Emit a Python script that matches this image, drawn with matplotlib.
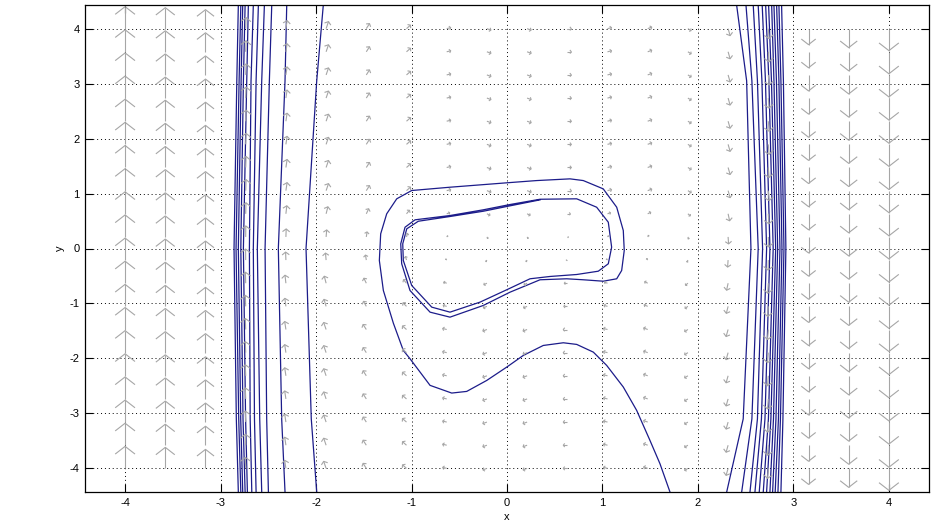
import numpy as np
import matplotlib
matplotlib.use("Agg")
import matplotlib.pyplot as plt
from matplotlib.collections import LineCollection

plt.rcParams['font.family'] = ['Liberation Sans', 'DejaVu Sans']
plt.rcParams['axes.unicode_minus'] = False

# quiver grid (20 x 20 between -4 and 4)
grid_x = np.linspace(-4, 4, 20)
grid_y = np.linspace(-4, 4, 20)
# vertical arrow component per column (screen pixels, + = up)
v_col = [22, 21, 19, 11, 8, 7, 5, 3.5, 1, -1.5, -1.5, 0, 1, 1.5, -2, -7, -10, -16, -19, -22]
# horizontal arrow component per row (screen pixels, + = right)
u_row = [-4, -4, -4, -4, -4, -4, -4, -3.5, -3, -1, 1, 3, 4, 4, 4, 4, 4, 4, 4, 4]
# how much of the horizontal part shows in each column
u_col = [0, 0, 0, 0.1, 0.3, 0.6, 0.8, 1, 1, 1, 1, 1, 1, 1, 0.8, 0.5, 0.2, 0, 0, 0]

# trajectory spiralling onto the closed orbit
loop_x = [1.707, 1.602, 1.497, 1.358, 1.218, 1.044, 0.904, 0.73, 0.59, 0.38, 0.171, -0.003,
          -0.212, -0.422, -0.579, -0.806, -1.016, -1.086, -1.19, -1.295, -1.337, -1.323,
          -1.260, -1.155, -0.998, -0.597, -0.003, 0.311, 0.660, 0.799, 1.008, 1.149, 1.218,
          1.228, 1.201, 1.149, 1.008, 0.799, 0.625, 0.346, 0.031, -0.248, -0.597, -0.806,
          -1.016, -1.103, -1.113, -1.068, -0.963, -0.597, -0.248, 0.031, 0.346, 0.730,
          0.939, 1.061, 1.096, 1.061, 0.956, 0.730, 0.450, 0.241, -0.003, -0.283, -0.597,
          -0.788, -0.998, -1.086, -1.092, -1.050, -0.929, -0.597, -0.248, 0.031, 0.346]
loop_y = [-4.43, -3.915, -3.49, -2.945, -2.52, -2.127, -1.885, -1.745, -1.715, -1.764, -1.945,
          -2.158, -2.40, -2.60, -2.63, -2.49, -2.005, -1.855, -1.36, -0.764, -0.218, 0.267,
          0.631, 0.904, 1.055, 1.115, 1.195, 1.236, 1.267, 1.236, 1.085, 0.751, 0.327,
          -0.036, -0.400, -0.551, -0.595, -0.569, -0.551, -0.569, -0.795, -1.036, -1.249,
          -1.158, -0.764, -0.278, 0.085, 0.387, 0.522, 0.600, 0.704, 0.800, 0.896, 0.904,
          0.751, 0.478, 0.024, -0.278, -0.413, -0.473, -0.509, -0.551, -0.751, -0.976,
          -1.158, -1.067, -0.673, -0.218, 0.085, 0.358, 0.496, 0.582, 0.678, 0.776, 0.885]

# near-vertical trajectories, x read at these heights
side_y = [4.43, 3.05, 0.0, -3.1, -4.43]
left_x = [
    [-2.814, -2.788, -2.768, -2.743, -2.709, -2.657, -2.604, -2.541, -2.464, -2.307, -1.924],
    [-2.830, -2.806, -2.785, -2.761, -2.726, -2.681, -2.628, -2.569, -2.489, -2.325, -1.993],
    [-2.859, -2.838, -2.814, -2.788, -2.761, -2.698, -2.657, -2.615, -2.534, -2.395, -2.105],
    [-2.835, -2.810, -2.789, -2.765, -2.738, -2.690, -2.645, -2.590, -2.517, -2.360, -2.050],
    [-2.814, -2.788, -2.768, -2.743, -2.719, -2.673, -2.628, -2.569, -2.499, -2.325, -1.993],
]
right_x = [
    [2.405, 2.503, 2.579, 2.631, 2.673, 2.709, 2.740, 2.772, 2.796, 2.824, 2.848, 2.876],
    [2.510, 2.565, 2.623, 2.670, 2.707, 2.743, 2.770, 2.796, 2.822, 2.848, 2.869, 2.895],
    [2.555, 2.631, 2.677, 2.719, 2.754, 2.788, 2.814, 2.835, 2.859, 2.880, 2.901, 2.921],
    [2.474, 2.565, 2.623, 2.665, 2.702, 2.738, 2.764, 2.791, 2.817, 2.843, 2.864, 2.890],
    [2.301, 2.458, 2.545, 2.597, 2.642, 2.684, 2.719, 2.754, 2.782, 2.809, 2.838, 2.869],
]

ticks = [-4, -3, -2, -1, 0, 1, 2, 3, 4]
xlim = (-4.42, 4.42)
ylim = (-4.43, 4.43)

W, H = 931, 527
fig = plt.figure(figsize=(W / 100, H / 100), dpi=100)
ax = fig.add_axes([85 / W, 35 / H, 844 / W, 487 / H])
ax.set_xlim(*xlim)
ax.set_ylim(*ylim)

line_col = '#1c1c8a'
for k in range(len(left_x[0])):
    ax.plot([row[k] for row in left_x], side_y, color=line_col, lw=0.9, zorder=2)
for k in range(len(right_x[0])):
    ax.plot([row[k] for row in right_x], side_y, color=line_col, lw=0.9, zorder=2)
ax.plot(loop_x, loop_y, color=line_col, lw=0.9, zorder=2)

# matlab-like quiver arrows with open heads, sized in screen pixels
px_x = 844 / (xlim[1] - xlim[0])
px_y = 487 / (ylim[1] - ylim[0])
segs = []
for i, yy in enumerate(grid_y):
    for j, xx in enumerate(grid_x):
        u = u_row[i] * u_col[j]
        v = v_col[j]
        L = np.hypot(u, v)
        if L == 0:
            continue
        ex, ey = u / L, v / L
        hl, hw = 0.35 * L, 0.45 * L
        bx, by = u - hl * ex, v - hl * ey
        tip = (xx + u / px_x, yy + v / px_y)
        h1 = (xx + (bx - hw * ey) / px_x, yy + (by + hw * ex) / px_y)
        h2 = (xx + (bx + hw * ey) / px_x, yy + (by - hw * ex) / px_y)
        segs.append([(xx, yy), tip])
        segs.append([h1, tip, h2])
ax.add_collection(LineCollection(segs, colors='#a6a6a6', linewidths=0.8, zorder=3))

ax.set_xticks(ticks)
ax.set_yticks(ticks)
ax.grid(True, linestyle=(0, (1, 3)), color='k', linewidth=0.7, zorder=1)
ax.set_axisbelow(True)
ax.tick_params(direction='in', length=6, width=0.8, top=True, right=True,
               labelsize=8, pad=4)
for s in ax.spines.values():
    s.set_linewidth(0.9)
ax.set_xlabel('x', fontsize=8, labelpad=3)
ax.set_ylabel('y', fontsize=8, labelpad=3)

fig.savefig('out.png', dpi=100, facecolor='white')
